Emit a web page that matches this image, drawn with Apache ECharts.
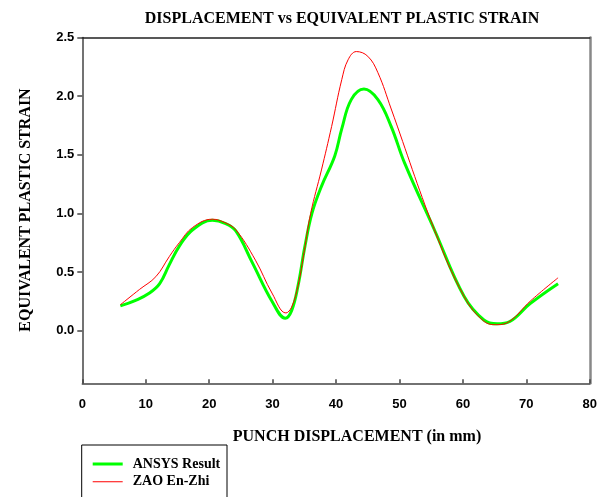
<!DOCTYPE html>
<html><head><meta charset="utf-8">
<script src="https://cdn.jsdelivr.net/npm/echarts@6/dist/echarts.min.js"></script>
<style>html,body{margin:0;padding:0;background:#fff}#c{width:600px;height:497px}</style>
</head><body><div id="c"></div>
<script>
// ANSYS Result (green)
const ansysX = [6.0, 8.5, 10.6, 12.2, 13.7, 15.3, 17.4, 20.5, 22.5, 24.2, 26.8, 29.9, 32.0, 33.0, 34.0, 35.1, 36.2, 37.7, 39.8, 40.9, 42.4, 44.4, 46.6, 48.7, 50.8, 55.5, 60.2, 63.3, 65.4, 67.4, 70.6, 75.0];
const ansysY = [0.21, 0.26, 0.32, 0.40, 0.56, 0.72, 0.86, 0.94, 0.915, 0.85, 0.58, 0.25, 0.106, 0.17, 0.38, 0.72, 1.0, 1.23, 1.49, 1.72, 1.97, 2.06, 1.97, 1.74, 1.43, 0.86, 0.29, 0.09, 0.057, 0.077, 0.23, 0.40];
// ZAO En-Zhi (red)
const zaoX = [6.0, 9.0, 11.6, 13.7, 15.3, 17.4, 20.5, 22.5, 24.2, 27.3, 29.9, 32.1, 33.0, 34.0, 35.0, 36.0, 37.7, 39.3, 40.9, 41.9, 43.2, 45.0, 46.6, 48.7, 55.5, 60.2, 63.3, 65.4, 67.4, 70.6, 75.0];
const zaoY = [0.22, 0.35, 0.46, 0.63, 0.75, 0.88, 0.95, 0.92, 0.86, 0.60, 0.32, 0.15, 0.20, 0.38, 0.68, 1.0, 1.37, 1.74, 2.14, 2.31, 2.38, 2.34, 2.20, 1.89, 0.86, 0.29, 0.08, 0.05, 0.08, 0.25, 0.45];
const yTicks = [0, 0.5, 1.0, 1.5, 2.0, 2.5];
const seriesNames = ['ANSYS Result', 'ZAO En-Zhi'];
const titleText = 'DISPLACEMENT vs EQUIVALENT PLASTIC STRAIN';
const xName = 'PUNCH DISPLACEMENT (in mm)';
const yName = 'EQUIVALENT PLASTIC STRAIN';

const pairs = (xs, ys) => xs.map((x, i) => [x, ys[i]]);
const serif = 'Liberation Serif';
const sans = 'Liberation Sans';
const green = '#00ff00';
const red = '#ff0000';

const chart = echarts.init(document.getElementById('c'), null, {renderer: 'canvas'});
chart.setOption({
  animation: false,
  backgroundColor: '#fff',
  title: {
    text: titleText, left: 337, top: 6, textAlign: 'center',
    textStyle: {fontFamily: serif, fontWeight: 'bold', fontSize: 16, color: '#000'}
  },
  grid: {left: 82.3, right: 6.3, top: 37.5, bottom: 113.7, containLabel: false},
  xAxis: [{
    type: 'value', min: 0, max: 80, interval: 10,
    axisLine: {onZero: false, lineStyle: {color: '#444', width: 1.5}},
    axisTick: {inside: true, length: 4, lineStyle: {color: '#444', width: 1.5}},
    axisLabel: {margin: 15, fontFamily: sans, fontWeight: 'bold', fontSize: 13, color: '#000'},
    splitLine: {show: false}
  }, {
    type: 'value', position: 'top', min: 0, max: 80,
    axisLine: {show: true, onZero: false, lineStyle: {color: '#222', width: 1.5}},
    axisTick: {show: false}, axisLabel: {show: false}, splitLine: {show: false}
  }],
  yAxis: [{
    type: 'value', min: -0.45, max: 2.5,
    axisLine: {show: true, onZero: false, lineStyle: {color: '#444', width: 1.5}},
    axisTick: {show: true, length: 5, customValues: yTicks, lineStyle: {color: '#444', width: 1.5}},
    axisLabel: {margin: 8, customValues: yTicks, formatter: v => v.toFixed(1),
      fontFamily: sans, fontWeight: 'bold', fontSize: 13, color: '#000'},
    splitLine: {show: false}
  }, {
    type: 'value', position: 'right', min: -0.45, max: 2.5,
    axisLine: {show: true, onZero: false, lineStyle: {color: '#888', width: 2.5}},
    axisTick: {show: false}, axisLabel: {show: false}, splitLine: {show: false}
  }],
  legend: {
    orient: 'vertical', left: 81.7, top: 445,
    itemWidth: 30, itemHeight: 3, itemGap: 3.7,
    padding: [12, 9, 4, 11],
    textStyle: {fontFamily: serif, fontWeight: 'bold', fontSize: 14, lineHeight: 14, color: '#000', padding: [0, 0, 0, 5]},
    data: [
      {name: seriesNames[0], icon: 'rect'},
      {name: seriesNames[1], icon: 'path://M0,0 L0.01,0 L0,0.01 Z M0,3 L0.01,3 L0,2.99 Z M0,1 L30,1 L30,2 L0,2 Z'}
    ]
  },
  graphic: [
    {type: 'rect', shape: {x: 81.7, y: 445, width: 145.3, height: 80}, style: {fill: 'none', stroke: '#000', lineWidth: 1}, silent: true},
    {type: 'text', x: 357, y: 437, style: {text: xName, fill: '#000', font: 'bold 16px "Liberation Serif"', textAlign: 'center', textVerticalAlign: 'middle'}},
    {type: 'text', x: 26, y: 210, rotation: Math.PI / 2, style: {text: yName, fill: '#000', font: 'bold 16px "Liberation Serif"', textAlign: 'center', textVerticalAlign: 'middle'}}
  ],
  series: [{
    name: seriesNames[0], type: 'line', smooth: 0.4, showSymbol: false, symbol: 'none',
    data: pairs(ansysX, ansysY),
    lineStyle: {color: green, width: 3}, itemStyle: {color: green}
  }, {
    name: seriesNames[1], type: 'line', smooth: 0.4, showSymbol: false, symbol: 'none',
    data: pairs(zaoX, zaoY),
    lineStyle: {color: red, width: 1}, itemStyle: {color: red}
  }]
});
</script>
</body></html>
